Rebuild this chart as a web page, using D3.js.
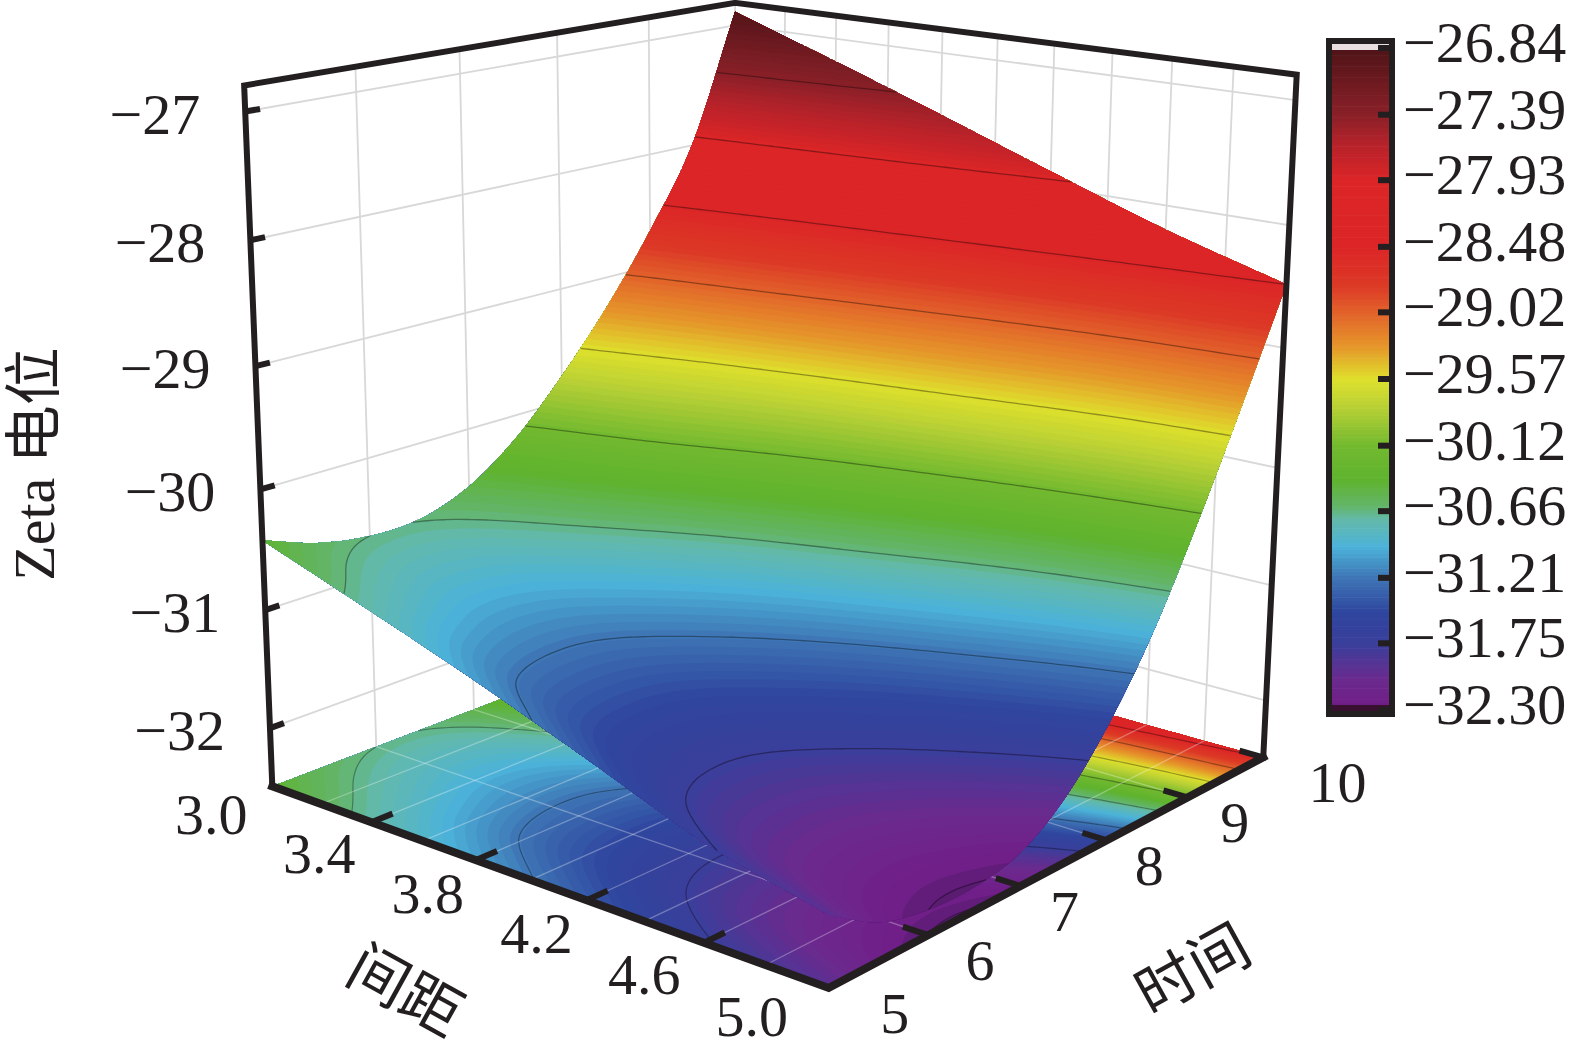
<!DOCTYPE html>
<html><head><meta charset="utf-8">
<script src="https://cdn.jsdelivr.net/npm/d3@7/dist/d3.min.js"></script>
<style>html,body{margin:0;padding:0;background:#fff}svg{display:block}text{font-family:"Liberation Serif","Noto Sans CJK SC",serif;fill:#231f20}</style>
</head><body><div id="chart"></div>
<script>
// ---------- data ----------
const spacingValues = [3.0, 3.4, 3.8, 4.2, 4.6, 5.0];
const timeValues = [5, 5.5, 6, 6.5, 7, 7.5, 8, 8.5, 9, 9.5, 10];
const zetaAt30 = [-30.42,-30.58,-30.66,-30.65,-30.50,-30.20,-29.77,-29.27,-28.68,-27.98,-26.88];
const zetaAt34 = [-30.72,-30.86,-30.95,-30.92,-30.74,-30.45,-30.04,-29.58,-28.95,-28.25,-27.20];
const zetaAt38 = [-31.03,-31.24,-31.30,-31.26,-31.07,-30.78,-30.37,-29.89,-29.25,-28.53,-27.53];
const zetaAt42 = [-31.37,-31.60,-31.68,-31.64,-31.44,-31.13,-30.70,-30.20,-29.55,-28.84,-27.87];
const zetaAt46 = [-31.72,-31.95,-32.02,-31.99,-31.83,-31.52,-31.08,-30.55,-29.86,-29.13,-28.20];
const zetaAt50 = [-31.95,-32.20,-32.30,-32.31,-32.22,-31.95,-31.50,-30.90,-30.15,-29.33,-28.48];
const zetaRows = [zetaAt30,zetaAt34,zetaAt38,zetaAt42,zetaAt46,zetaAt50];
const zetaTicks = [-27,-28,-29,-30,-31,-32];
const spacingTicks = [3.0,3.4,3.8,4.2,4.6,5.0];
const spacingTickLabels = ["3.0","3.4","3.8","4.2","4.6","5.0"];
const spacingGrid = [3.2,3.4,3.6,3.8,4.0,4.2,4.4,4.6,4.8];
const timeTicks = [5,6,7,8,9,10];
const colorbarTicks = [-26.84,-27.39,-27.93,-28.48,-29.02,-29.57,-30.12,-30.66,-31.21,-31.75,-32.30];
const colorStopValues = [-32.5,-32.30,-32.24,-32.05,-31.75,-31.5,-31.21,-30.95,-30.72,-30.62,-30.4,-30.12,-29.8,-29.57,-29.3,-29.02,-28.8,-28.48,-27.93,-27.6,-27.39,-26.84];
const colorStopHex = ["#4e1b66","#5a1c72","#701f88","#6b2a8e","#3a3f9b","#2f459e","#3e75b5","#4cb3d9","#63b9a8","#63b56a","#5fb32e","#72b92f","#b8d035","#dfe02c","#e5962a","#e2622a","#dc3a26","#dc2527","#dc2527","#b0222a","#8a2028","#4f1418"];

// ---------- scales ----------
const W=1575,H=1057, dark="#231f20";
const zFloor=-32.5, zTop=-26.8;
const uScale=d3.scaleLinear().domain([3,5]).range([0,1]);
const vScale=d3.scaleLinear().domain([5,10]).range([0,1]);
const wScale=d3.scaleLinear().domain([zFloor,zTop]).range([0,1]);
const color=d3.scaleLinear().domain(colorStopValues).range(colorStopHex).interpolate(d3.interpolateRgb).clamp(true);

// ---------- perspective camera fitted to the box corners ----------
const viewAnchors=[
 [0,0,0,273,783],[1,0,0,832,989],[1,1,0,1263,758],[0,1,0,732,612],
 [0,0,1,242,87],[0,1,1,740,2],[1,1,1,1294,73],
 [0,0,wScale(-27),245,113],[0,0,wScale(-30),259,489]
];
function solveCamera(anch){
  const rows=[],rhs=[];
  anch.forEach(([u,v,w,X,Y])=>{
    rows.push([1,u,v,w,0,0,0,0,-X*u,-X*v,-X*w]);rhs.push(X);
    rows.push([0,0,0,0,1,u,v,w,-Y*u,-Y*v,-Y*w]);rhs.push(Y);
  });
  const n=11,M=d3.range(n).map(i=>d3.range(n+1).map(j=>{
    let s=0;rows.forEach((r,k)=>{s+=r[i]*(j<n?r[j]:rhs[k]);});return s;}));
  for(let i=0;i<n;i++){
    let p=i;for(let k=i+1;k<n;k++)if(Math.abs(M[k][i])>Math.abs(M[p][i]))p=k;
    [M[i],M[p]]=[M[p],M[i]];
    for(let k=0;k<n;k++)if(k!==i){const f=M[k][i]/M[i][i];for(let j=i;j<=n;j++)M[k][j]-=f*M[i][j];}
  }
  return M.map((r,i)=>r[n]/r[i]);
}
const cam=solveCamera(viewAnchors);
function proj(u,v,w){
  const d=1+cam[8]*u+cam[9]*v+cam[10]*w;
  return [(cam[0]+cam[1]*u+cam[2]*v+cam[3]*w)/d,(cam[4]+cam[5]*u+cam[6]*v+cam[7]*w)/d];
}
const P=(x,t,z)=>proj(uScale(x),vScale(t),wScale(z));

// ---------- smooth refinement of the read grid for drawing ----------
const N=81;
function cr(a,b,c,d,s){return 0.5*(2*b+(c-a)*s+(2*a-5*b+4*c-d)*s*s+(3*b-a-3*c+d)*s*s*s);}
function rowAt(arr,i){if(i<0)return 2*arr[0]-arr[1];if(i>=arr.length)return 2*arr[arr.length-1]-arr[arr.length-2];return arr[i];}
function sample1(arr,f){const p=f*(arr.length-1),i=Math.min(Math.floor(p),arr.length-2),s=p-i;
  return cr(rowAt(arr,i-1),rowAt(arr,i),rowAt(arr,i+1),rowAt(arr,i+2),s);}
const fine=new Float64Array(N*N);
for(let j=0;j<N;j++){
  const v=j/(N-1);
  const col=zetaRows.map(r=>sample1(r,v));
  for(let i=0;i<N;i++)fine[i+j*N]=sample1(col,i/(N-1));
}
const gridCoord=p=>Math.max(0,Math.min(N-1,p-0.5));
function zetaAtGrid(px,py){
  const gx=gridCoord(px),gy=gridCoord(py);
  const i=Math.min(Math.floor(gx),N-2),j=Math.min(Math.floor(gy),N-2),a=gx-i,b=gy-j;
  return (1-a)*(1-b)*fine[i+j*N]+a*(1-b)*fine[i+1+j*N]+(1-a)*b*fine[i+(j+1)*N]+a*b*fine[i+1+(j+1)*N];
}
const onSurface=(px,py)=>proj(gridCoord(px)/(N-1),gridCoord(py)/(N-1),wScale(zetaAtGrid(px,py)));
const onFloor=(px,py)=>proj(gridCoord(px)/(N-1),gridCoord(py)/(N-1),0);

const bandStep=0.04;
const bandLevels=d3.range(zFloor,zTop,bandStep);
const contourGen=d3.contours().size([N,N]).smooth(true);
const bands=contourGen.thresholds(bandLevels)(Array.from(fine));
const lineLevels=contourGen.thresholds(colorbarTicks)(Array.from(fine));
const lineGen=d3.line();
function bandPath(geom,map){
  return geom.coordinates.map(poly=>poly.map(ring=>lineGen(ring.map(p=>map(p[0],p[1])))+"Z").join("")).join("");
}
function linePath(geom,map){
  let d="";
  const border=a=>a<=0.5||a>=N-0.5;
  geom.coordinates.forEach(poly=>poly.forEach(ring=>{
    let run=[];
    for(let k=0;k<ring.length-1;k++){
      const a=ring[k],b=ring[k+1];
      const skip=(border(a[0])&&border(b[0]))||(border(a[1])&&border(b[1]));
      if(skip){if(run.length>1)d+=lineGen(run);run=[];continue;}
      if(!run.length)run.push(map(a[0],a[1]));
      run.push(map(b[0],b[1]));
    }
    if(run.length>1)d+=lineGen(run);
  }));
  return d;
}

// ---------- drawing ----------
const svg=d3.select("#chart").append("svg").attr("width",W).attr("height",H).attr("viewBox",[0,0,W,H]);
const seg=(a,b)=>lineGen([a,b]);
const gridColor="#d8d8d8";

// walls
const wall=svg.append("g").attr("fill","none").attr("stroke",gridColor).attr("stroke-width",1.8);
wall.selectAll(".zl").data(zetaTicks).join("path").attr("d",z=>seg(P(3,5,z),P(3,10,z))+seg(P(3,10,z),P(5,10,z)));
wall.selectAll(".tv").data(timeTicks.slice(1)).join("path").attr("d",t=>seg(P(3,t,zFloor),P(3,t,zTop)));
wall.selectAll(".xv").data(spacingGrid).join("path").attr("d",x=>seg(P(x,10,zFloor),P(x,10,zTop)));

// floor projection
const floor=svg.append("g");
floor.selectAll("path.b").data(bands).join("path").attr("class","b")
  .attr("fill",d=>color(d.value+bandStep/2)).attr("fill-rule","evenodd").attr("d",d=>bandPath(d,onFloor));
floor.selectAll("path.l").data(lineLevels).join("path").attr("class","l")
  .attr("fill","none").attr("stroke","#000").attr("stroke-opacity",.33).attr("stroke-width",1.2).attr("d",d=>linePath(d,onFloor));
const floorGrid=svg.append("g").attr("fill","none").attr("stroke","#fff").attr("stroke-opacity",.3).attr("stroke-width",1.3);
floorGrid.selectAll(".x").data(spacingGrid).join("path").attr("d",x=>seg(P(x,5,zFloor),P(x,10,zFloor)));
floorGrid.selectAll(".t").data(timeTicks.slice(1,-1)).join("path").attr("d",t=>seg(P(3,t,zFloor),P(5,t,zFloor)));

// surface
const surf=svg.append("g");
surf.selectAll("path.b").data(bands).join("path").attr("class","b")
  .attr("fill",d=>color(d.value+bandStep/2)).attr("fill-rule","evenodd").attr("d",d=>bandPath(d,onSurface));
surf.selectAll("path.l").data(lineLevels).join("path").attr("class","l")
  .attr("fill","none").attr("stroke","#000").attr("stroke-opacity",.36).attr("stroke-width",1.3).attr("d",d=>linePath(d,onSurface));

// frame
const frame=svg.append("g").attr("fill","none").attr("stroke",dark).attr("stroke-linecap","square");
frame.append("path").attr("stroke-width",6).attr("stroke-linejoin","miter")
  .attr("d",lineGen([P(3,5,zFloor),P(3,5,zTop),P(3,10,zTop),P(5,10,zTop),P(5,10,zFloor)]));
frame.append("path").attr("stroke-width",8).attr("stroke-linejoin","miter")
  .attr("d",lineGen([P(3,5,zFloor),P(5,5,zFloor),P(5,10,zFloor)]));
const ticks=svg.append("g").attr("stroke",dark).attr("stroke-width",6).attr("fill","none");
ticks.selectAll(".z").data(zetaTicks).join("path").attr("d",z=>seg(P(3,5,z),P(3,5.13,z)));
ticks.selectAll(".x").data(spacingTicks.slice(1,-1)).join("path").attr("d",x=>seg(P(x,5,zFloor),P(x,5.2,zFloor)));
ticks.selectAll(".t").data(timeTicks.slice(1)).join("path").attr("d",t=>seg(P(5,t,zFloor),P(4.92,t,zFloor)));

// tick labels
const fs=58;
const fmtMinus=v=>"\u2212"+Math.abs(v);
const labels=svg.append("g").attr("font-size",fs);
labels.selectAll(".z").data(zetaTicks).join("text").attr("text-anchor","end")
  .attr("x",z=>P(3,5,z)[0]-45).attr("y",z=>P(3,5,z)[1]+22).text(fmtMinus);
const xLabelShift=u=>-48-32*(u-.45)*(u-.45)*(u<.45?2:3);
labels.selectAll(".x").data(spacingTicks).join("text").attr("text-anchor","middle")
  .attr("x",x=>P(x,5,zFloor)[0]+xLabelShift(uScale(x))).attr("y",x=>{const u=uScale(x);return P(x,5,zFloor)[1]+33-20*(u-.5)*(u-.5)+20;})
  .text((x,i)=>spacingTickLabels[i]);
labels.selectAll(".t").data(timeTicks).join("text").attr("text-anchor","middle")
  .attr("x",t=>{const v=vScale(t);return P(5,t,zFloor)[0]+42+80*(v-.55)*(v-.55)+(t===10?16:0);})
  .attr("y",t=>P(5,t,zFloor)[1]+25+20).text(t=>t);

// axis titles
svg.append("text").attr("transform","translate(54,464) rotate(-90)").attr("text-anchor","middle").attr("font-size",58).text("Zeta 电位");
svg.append("text").attr("transform","translate(395,1009) rotate(29)").attr("text-anchor","middle").attr("font-size",60).text("间距");
svg.append("text").attr("transform","translate(1203,988) rotate(-29)").attr("text-anchor","middle").attr("font-size",60).text("时间");

// colorbar
const cbY=d3.scaleLinear().domain([-26.84,-32.30]).range([48,710]);
const cb=svg.append("g");
const cbSteps=d3.range(-32.30,-26.84,0.03);
cb.selectAll("rect.s").data(cbSteps).join("rect").attr("class","s").attr("x",1332).attr("width",58)
  .attr("y",v=>cbY(v+0.03)).attr("height",v=>cbY(v)-cbY(v+0.03)+0.6).attr("fill",v=>color(v+0.015));
cb.append("rect").attr("x",1332).attr("width",58).attr("y",44).attr("height",6).attr("fill","#e9dfe1");
cb.append("rect").attr("x",1332).attr("width",58).attr("y",705).attr("height",6).attr("fill","#3a1030");
cb.append("rect").attr("x",1329).attr("y",41).attr("width",63).attr("height",673).attr("fill","none").attr("stroke",dark).attr("stroke-width",6);
cb.selectAll("line.t").data(colorbarTicks).join("line").attr("class","t").attr("x1",1378).attr("x2",1392)
  .attr("y1",cbY).attr("y2",cbY).attr("stroke",dark).attr("stroke-width",6);
cb.selectAll("text").data(colorbarTicks).join("text").attr("font-size",fs).attr("x",1403)
  .attr("y",v=>cbY(v)+14).text(v=>"\u2212"+Math.abs(v).toFixed(2));
</script></body></html>
